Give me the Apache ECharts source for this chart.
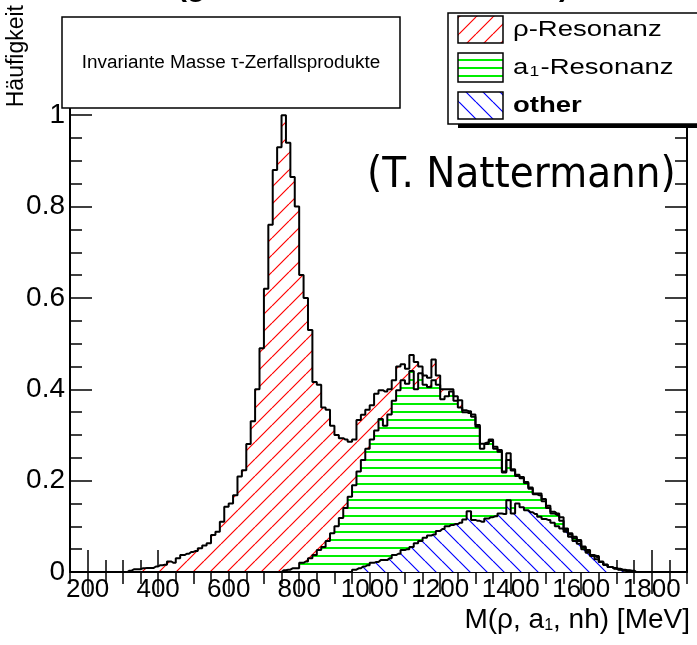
<!DOCTYPE html>
<html><head><meta charset="utf-8">
<script src="https://cdn.jsdelivr.net/npm/echarts@6/dist/echarts.min.js"></script>
<style>html,body{margin:0;padding:0;background:#fff}#c{width:697px;height:645px}</style>
</head><body><div id="c"></div>
<script>
// histogram binning (MeV)
const binStart = 150, binWidth = 12.5;
// top of the whole stack (rho + a1 + other)
const stackTotal = [
0,0,0,0,0,0,0,0,0,0,
0,0,0,0.003,0.006,0.006,0.008,0.009,0.009,0.012,
0.015,0.016,0.023,0.020,0.030,0.037,0.040,0.044,0.046,0.052,
0.058,0.063,0.081,0.088,0.110,0.143,0.150,0.168,0.209,0.223,
0.280,0.330,0.400,0.490,0.620,0.760,0.880,0.930,1.000,0.940,
0.865,0.800,0.650,0.600,0.530,0.416,0.410,0.360,0.355,0.320,
0.300,0.293,0.290,0.285,0.290,0.333,0.344,0.355,0.365,0.390,
0.398,0.395,0.400,0.420,0.450,0.455,0.445,0.475,0.460,0.450,
0.430,0.425,0.465,0.430,0.400,0.400,0.400,0.385,0.376,0.354,
0.352,0.345,0.322,0.281,0.283,0.290,0.274,0.267,0.220,0.260,
0.225,0.213,0.208,0.197,0.185,0.172,0.172,0.160,0.145,0.132,
0.128,0.120,0.095,0.085,0.077,0.070,0.056,0.048,0.037,0.035,
0.023,0.016,0.011,0.009,0.007,0.005,0.004,0.003,0,0,
0,0,0,0,0,0,0,0,0,0];
// top of a1 + other
const stackA1Other = [
0,0,0,0,0,0,0,0,0,0,
0,0,0,0,0,0,0,0,0,0,
0,0,0,0,0,0,0,0,0,0,
0,0,0,0,0,0,0,0,0,0,
0,0,0,0,0,0,0,0,0.004,0.005,
0.008,0.008,0.020,0.023,0.030,0.037,0.048,0.055,0.068,0.085,
0.100,0.118,0.140,0.165,0.190,0.220,0.245,0.270,0.290,0.310,
0.335,0.320,0.345,0.375,0.398,0.420,0.412,0.440,0.400,0.435,
0.410,0.405,0.420,0.410,0.378,0.385,0.395,0.375,0.360,0.350,
0.348,0.340,0.318,0.270,0.280,0.287,0.270,0.263,0.218,0.245,
0.222,0.210,0.205,0.195,0.182,0.170,0.168,0.155,0.140,0.128,
0.125,0.112,0.092,0.082,0.074,0.068,0.054,0.046,0.036,0.033,
0.022,0.016,0.011,0.008,0.006,0.004,0.003,0.002,0,0,
0,0,0,0,0,0,0,0,0,0];
// other only
const stackOther = [
0,0,0,0,0,0,0,0,0,0,
0,0,0,0,0,0,0,0,0,0,
0,0,0,0,0,0,0,0,0,0,
0,0,0,0,0,0,0,0,0,0,
0,0,0,0,0,0,0,0,0,0,
0,0,0,0,0,0,0,0,0,0,
0,0,0,0,0.005,0.008,0.012,0.015,0.020,0.022,
0.026,0.026,0.030,0.037,0.040,0.048,0.050,0.055,0.063,0.068,
0.075,0.080,0.082,0.090,0.094,0.100,0.103,0.105,0.108,0.115,
0.133,0.114,0.112,0.110,0.117,0.120,0.122,0.128,0.127,0.157,
0.128,0.150,0.142,0.135,0.131,0.127,0.121,0.116,0.114,0.108,
0.100,0.095,0.088,0.077,0.068,0.062,0.050,0.042,0.035,0.028,
0.022,0.016,0.011,0.007,0.005,0.003,0,0,0,0,
0,0,0,0,0,0,0,0,0,0];
const xMajorTicks = [200,400,600,800,1000,1200,1400,1600,1800];
const yMajorTicks = [0,0.2,0.4,0.6,0.8,1];
const legendNames = ['ρ-Resonanz','a₁-Resonanz','other'];

function hatch(kind, color, size, lw) {
  const c = document.createElement('canvas'); c.width = size; c.height = size;
  const g = c.getContext('2d'); g.fillStyle = '#fff'; g.fillRect(0,0,size,size);
  g.strokeStyle = color; g.lineWidth = lw; g.beginPath();
  if (kind === 'h') { g.moveTo(0, size/2); g.lineTo(size, size/2); }
  else if (kind === '/') { for (const o of [-size,0,size]) { g.moveTo(o, size); g.lineTo(o+size, 0); } }
  else { for (const o of [-size,0,size]) { g.moveTo(o, 0); g.lineTo(o+size, size); } }
  g.stroke(); return c;
}
const patRed = {image: hatch('/', '#ff0000', 17, 1.2), repeat: 'repeat'};
const patGreen = {image: hatch('h', '#00ee00', 8, 2), repeat: 'repeat'};
const patBlue = {image: hatch('\\', '#0000ff', 17, 1.2), repeat: 'repeat'};

const toPts = arr => arr.map((v, i) => [binStart + binWidth * (i + 0.5), v]);
const black = {color: '#000', width: 2};
const tickStyle = {color: '#000', width: 1.5};
const plain = v => String(v);

function xAx(pos, major, labels) {
  return {type: 'value', min: 150, max: 1900, position: pos, interval: major ? undefined : 50,
    axisLine: {show: !major, lineStyle: black},
    axisTick: major ? {inside: true, length: 22, customValues: xMajorTicks, lineStyle: tickStyle}
                    : {inside: true, length: 12, lineStyle: tickStyle},
    axisLabel: labels ? {customValues: xMajorTicks, margin: 5, formatter: plain, fontFamily: 'Liberation Sans', fontSize: 26, color: '#000'} : {show: false},
    splitLine: {show: false}};
}
function yAx(pos, major, labels) {
  return {type: 'value', min: 0, max: 1.18, position: pos, interval: major ? undefined : 0.05,
    axisLine: {show: !major, lineStyle: black},
    axisTick: major ? {inside: true, length: 22, customValues: yMajorTicks, lineStyle: tickStyle}
                    : {inside: true, length: 12, lineStyle: tickStyle},
    axisLabel: labels ? {customValues: yMajorTicks, margin: 5, formatter: plain, fontFamily: 'Liberation Sans', fontSize: 28, color: '#000'} : {show: false},
    splitLine: {show: false}};
}
function histo(name, data, pat) {
  return {name, type: 'line', step: 'middle', xAxisIndex: 0, yAxisIndex: 0, data: toPts(data),
    symbol: 'none', lineStyle: {color: '#000', width: 2}, areaStyle: {color: pat, opacity: 1},
    animation: false, silent: true};
}
const sub = {s: {fontSize: 14, fontFamily: 'Liberation Sans', verticalAlign: 'bottom', lineHeight: 14, padding: [0, 1, 0, 1]}};

const chart = echarts.init(document.getElementById('c'), null, {renderer: 'canvas'});
chart.setOption({
  animation: false,
  grid: {left: 70, right: 10, top: 33, bottom: 73},
  xAxis: [xAx('bottom', false, false), xAx('bottom', true, true), xAx('top', false, false), xAx('top', true, false)],
  yAxis: [yAx('left', false, false), yAx('left', true, true), yAx('right', false, false), yAx('right', true, false)],
  series: [histo(legendNames[0], stackTotal, patRed), histo(legendNames[1], stackA1Other, patGreen), histo(legendNames[2], stackOther, patBlue)],
  graphic: [
    {type: 'text', x: 373, y: -12, z: 100, style: {text: '(generator level simulation)', font: 'bold 30px "Liberation Sans"', fill: '#000', align: 'center', verticalAlign: 'middle'}},
    {type: 'rect', shape: {x: 62, y: 17, width: 338, height: 91}, z: 100, style: {fill: '#fff', stroke: '#000', lineWidth: 1.5}},
    {type: 'text', x: 231, y: 63, scaleX: 1.05, z: 101, style: {text: 'Invariante Masse τ-Zerfallsprodukte', font: '18px "Liberation Sans"', fill: '#000', align: 'center', verticalAlign: 'middle'}},
    {type: 'rect', shape: {x: 458, y: 17, width: 260, height: 111}, z: 100, style: {fill: '#000'}},
    {type: 'rect', shape: {x: 448, y: 13, width: 260, height: 111}, z: 101, style: {fill: '#fff', stroke: '#000', lineWidth: 1.5}},
    {type: 'rect', shape: {x: 458, y: 16, width: 45, height: 27}, z: 102, style: {fill: patRed, stroke: '#000', lineWidth: 1.5}},
    {type: 'rect', shape: {x: 458, y: 53, width: 45, height: 29}, z: 102, style: {fill: patGreen, stroke: '#000', lineWidth: 1.5}},
    {type: 'rect', shape: {x: 458, y: 92, width: 45, height: 27}, z: 102, style: {fill: patBlue, stroke: '#000', lineWidth: 1.5}},
    {type: 'text', x: 513, y: 30, scaleX: 1.25, z: 102, style: {text: legendNames[0], font: '22px "Liberation Sans"', fill: '#000', verticalAlign: 'middle'}},
    {type: 'text', x: 513, y: 68, scaleX: 1.25, z: 102, style: {text: 'a{s|1}-Resonanz', rich: sub, font: '22px "Liberation Sans"', fill: '#000', verticalAlign: 'middle'}},
    {type: 'text', x: 513, y: 106, scaleX: 1.25, z: 102, style: {text: legendNames[2], font: 'bold 22px "Liberation Sans"', fill: '#000', verticalAlign: 'middle'}},
    {type: 'text', x: 367, y: 176, scaleY: 1.1, z: 102, style: {text: '(T. Nattermann)', font: '39px "DejaVu Sans"', fill: '#000', verticalAlign: 'middle'}},
    {type: 'text', x: 17, y: 5, rotation: Math.PI / 2, z: 102, style: {text: 'Häufigkeit', font: '23px "Liberation Sans"', fill: '#000', align: 'right', verticalAlign: 'middle'}},
    {type: 'text', x: 690, y: 620, z: 102, style: {text: 'M(ρ, a{s|1}, nh) [MeV]', rich: {s: {fontSize: 16, fontFamily: 'Liberation Sans', verticalAlign: 'bottom', lineHeight: 16}}, font: '28px "Liberation Sans"', fill: '#000', align: 'right', verticalAlign: 'middle'}}
  ]
});
</script></body></html>
